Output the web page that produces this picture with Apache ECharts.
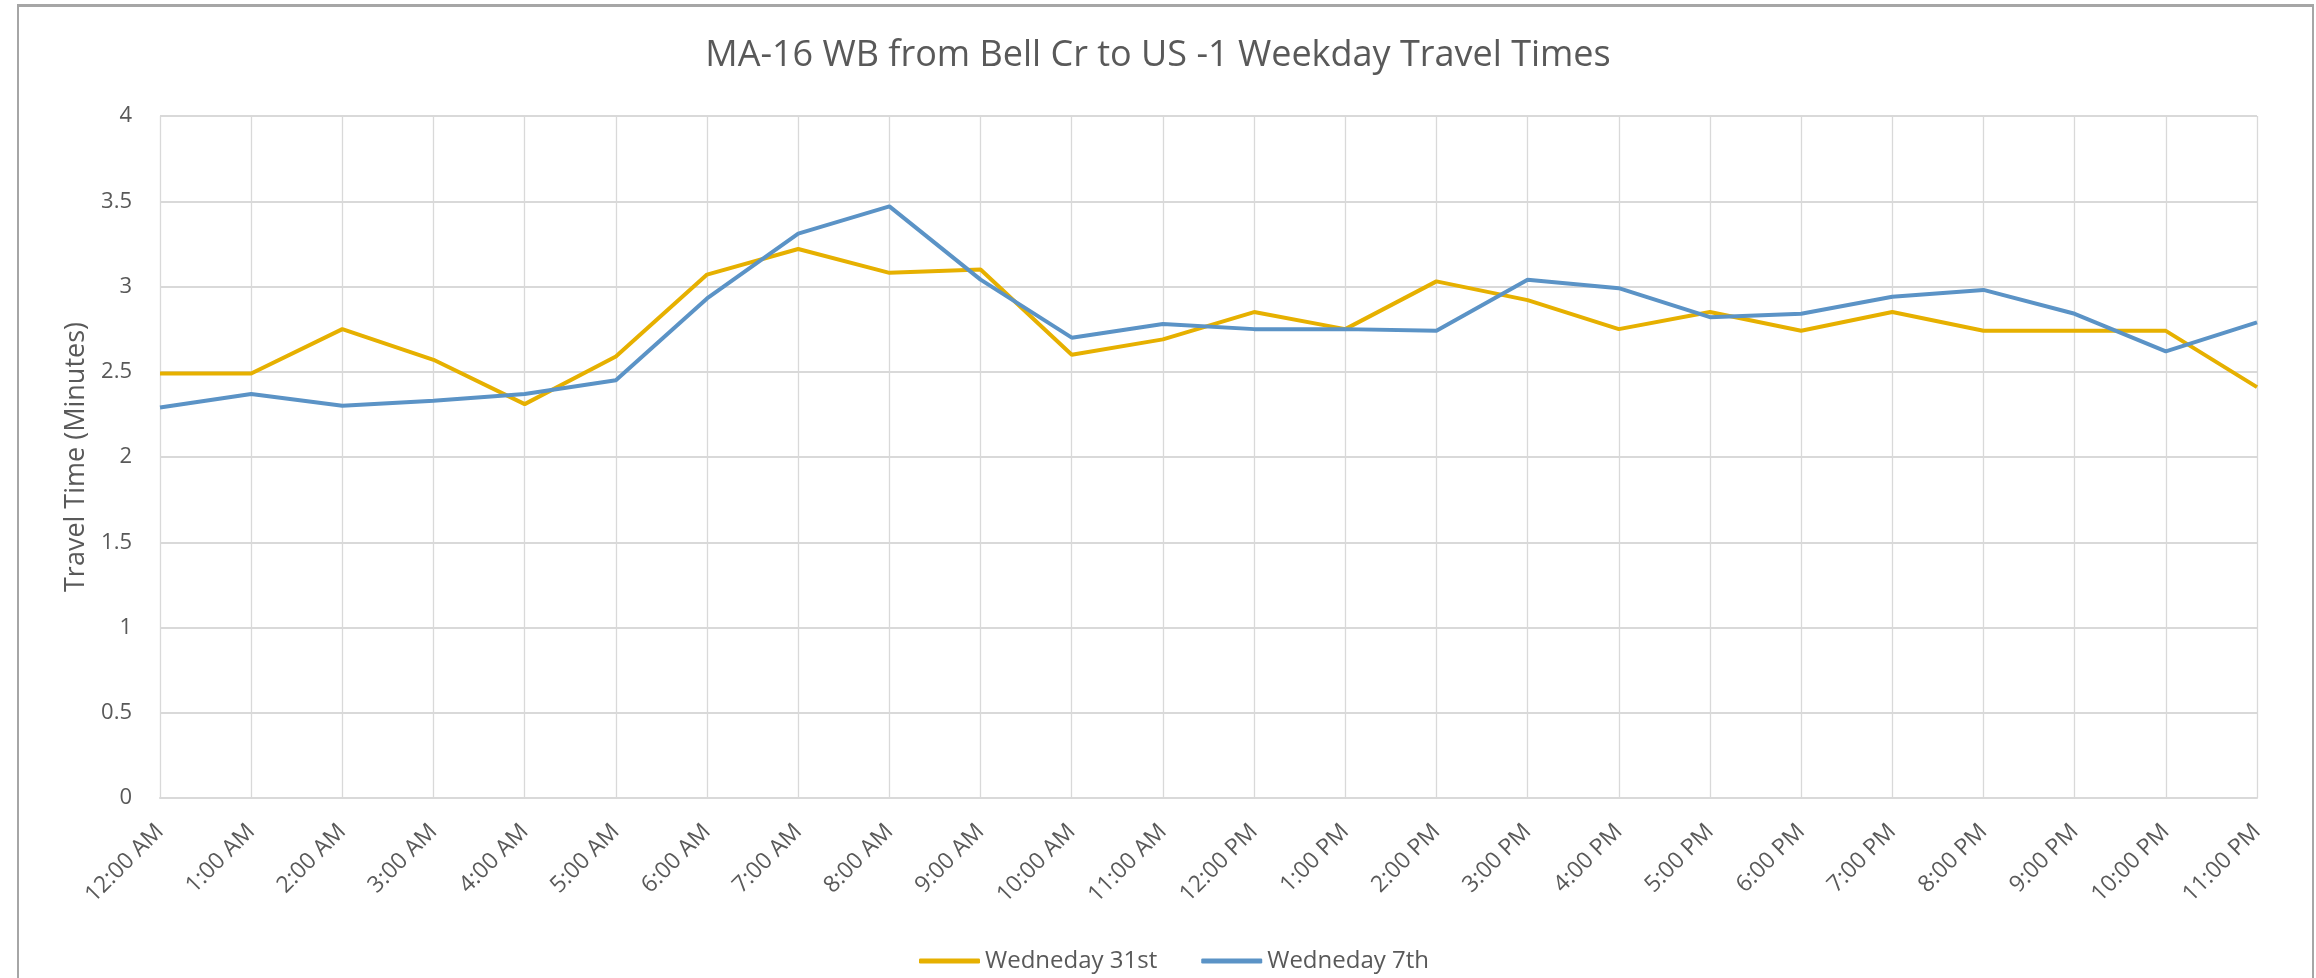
<!DOCTYPE html>
<html>
<head>
<meta charset="utf-8">
<title>MA-16 WB Weekday Travel Times</title>
<script src="https://cdn.jsdelivr.net/npm/echarts@6/dist/echarts.min.js"></script>
<style>
  html, body { margin: 0; padding: 0; background: #fff; }
  #chart { width: 2316px; height: 978px; }
</style>
</head>
<body>
<div id="chart"></div>
<script>
// 时间轴（每小时）
var hours = ['12:00 AM', '1:00 AM', '2:00 AM', '3:00 AM', '4:00 AM', '5:00 AM',
  '6:00 AM', '7:00 AM', '8:00 AM', '9:00 AM', '10:00 AM', '11:00 AM',
  '12:00 PM', '1:00 PM', '2:00 PM', '3:00 PM', '4:00 PM', '5:00 PM',
  '6:00 PM', '7:00 PM', '8:00 PM', '9:00 PM', '10:00 PM', '11:00 PM'];

// 两天的行程时间（分钟）
var wed31st = [2.49, 2.49, 2.75, 2.57, 2.31, 2.59, 3.07, 3.22, 3.08, 3.10, 2.60, 2.69,
  2.85, 2.75, 3.03, 2.92, 2.75, 2.85, 2.74, 2.85, 2.74, 2.74, 2.74, 2.41];
var wed7th = [2.29, 2.37, 2.30, 2.33, 2.37, 2.45, 2.93, 3.31, 3.47, 3.04, 2.70, 2.78,
  2.75, 2.75, 2.74, 3.04, 2.99, 2.82, 2.84, 2.94, 2.98, 2.84, 2.62, 2.79];

var seriesNames = ['Wedneday 31st', 'Wedneday 7th'];
var yTicks = [0, 0.5, 1, 1.5, 2, 2.5, 3, 3.5, 4];

var chart = echarts.init(document.getElementById('chart'));

var option = {
  backgroundColor: '#ffffff',
  animation: false,
  title: {
    text: 'MA-16 WB from Bell Cr to US -1 Weekday Travel Times',
    left: 'center',
    top: 33,
    textStyle: {
      fontFamily: 'Open Sans',
      fontSize: 36,
      fontWeight: 'normal',
      color: '#595959'
    }
  },
  legend: {
    data: seriesNames,
    left: 914,
    top: 944,
    icon: 'roundRect',
    itemWidth: 61,
    itemHeight: 5,
    itemGap: 44,
    textStyle: {
      fontFamily: 'Open Sans',
      fontSize: 24,
      color: '#595959',
      padding: [0, 0, 0, 0]
    }
  },
  grid: {
    left: 160,
    right: 59,
    top: 116,
    bottom: 180
  },
  xAxis: {
    type: 'category',
    data: hours,
    boundaryGap: false,
    axisLine: { lineStyle: { color: '#d9d9d9', width: 2 } },
    axisTick: { show: false },
    splitLine: { show: true, lineStyle: { color: '#d9d9d9', width: 1.3 } },
    axisLabel: {
      rotate: 45,
      margin: 30,
      interval: 0,
      fontFamily: 'Open Sans',
      fontSize: 23,
      color: '#595959'
    }
  },
  yAxis: {
    type: 'value',
    min: yTicks[0],
    max: yTicks[yTicks.length - 1],
    interval: 0.5,
    name: 'Travel Time (Minutes)',
    nameLocation: 'middle',
    nameGap: 68,
    nameTextStyle: {
      fontFamily: 'Open Sans',
      fontSize: 27,
      color: '#595959'
    },
    axisLine: { show: false },
    axisTick: { show: false },
    splitLine: { lineStyle: { color: '#d9d9d9', width: 2 } },
    axisLabel: {
      margin: 28,
      fontFamily: 'Open Sans',
      fontSize: 22,
      color: '#595959'
    }
  },
  series: [
    {
      name: seriesNames[0],
      type: 'line',
      data: wed31st,
      symbol: 'none',
      color: '#E6B000',
      lineStyle: { width: 4, color: '#E6B000' }
    },
    {
      name: seriesNames[1],
      type: 'line',
      data: wed7th,
      symbol: 'none',
      color: '#5B93C6',
      lineStyle: { width: 4, color: '#5B93C6' }
    }
  ],
  // 外框（顶部灰条 + 左右边线）
  graphic: [
    { type: 'rect', shape: { x: 17, y: 4, width: 2297, height: 3 }, style: { fill: '#a6a6a6' }, silent: true },
    { type: 'rect', shape: { x: 17, y: 4, width: 2, height: 974 }, style: { fill: '#a6a6a6' }, silent: true },
    { type: 'rect', shape: { x: 2312, y: 4, width: 2, height: 974 }, style: { fill: '#a6a6a6' }, silent: true }
  ]
};

chart.setOption(option);
</script>
</body>
</html>
